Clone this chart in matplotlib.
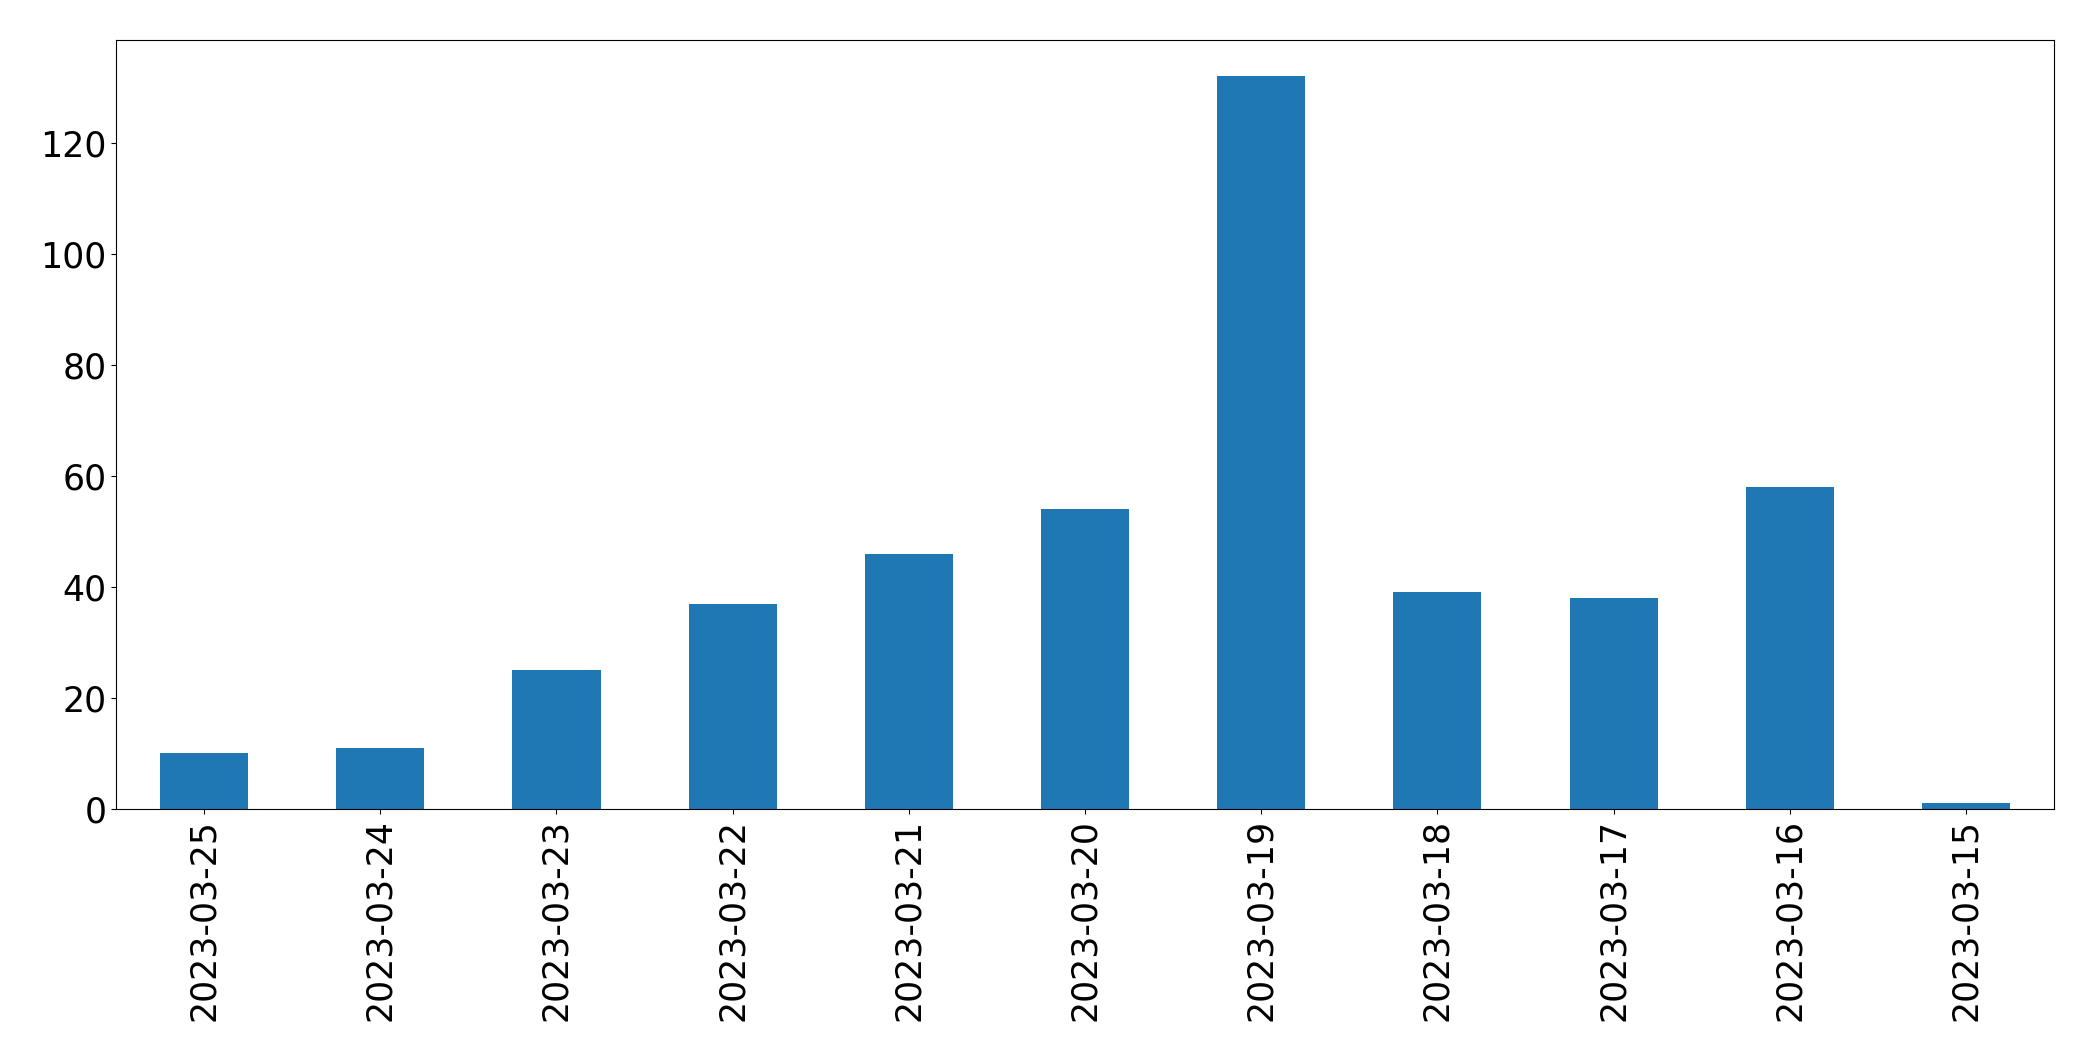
import matplotlib
matplotlib.use("Agg")
import matplotlib.pyplot as plt
import pandas as pd

dates = ["2023-03-25", "2023-03-24", "2023-03-23", "2023-03-22", "2023-03-21",
         "2023-03-20", "2023-03-19", "2023-03-18", "2023-03-17", "2023-03-16",
         "2023-03-15"]
counts = [10, 11, 25, 37, 46, 54, 132, 39, 38, 58, 1]

plt.rcParams['font.size'] = 25
fig = plt.figure(figsize=(20.93, 10.61), dpi=100)
ax = fig.add_axes([116/2093, 1 - 809/1061, (2054-116)/2093, (809-39.5)/1061])
s = pd.Series(counts, index=dates)
s.plot(kind="bar", ax=ax, color="#1f77b4")
ax.tick_params(axis='both', labelsize=25)
fig.savefig("out.png", dpi=100)
